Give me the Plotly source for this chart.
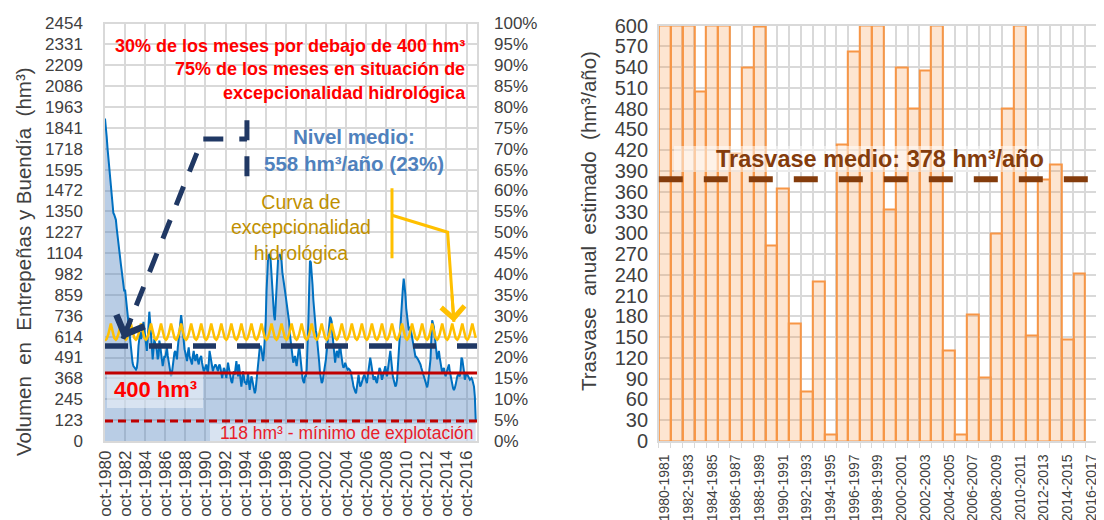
import pandas as pd
import plotly.graph_objects as go

W, H = 1104, 520
OFF = 8  # margen por defecto del <body> en la página

# Volumen embalsado en Entrepeñas + Buendía (hm3), un valor por mes, oct-1980 .. sep-2017
volumen = [
    1895, 1850, 1790, 1720, 1660, 1600, 1550, 1500, 1440, 1380, 1340, 1330,  # 1980-81
    1320, 1300, 1250, 1200, 1160, 1120, 1080, 1040, 1000, 960, 920, 880,
    890, 840, 780, 730, 680, 620, 570, 530, 490, 460, 440, 430,
    425, 420, 430, 470, 560, 610, 640, 600, 620, 660, 700, 660,
    610, 560, 530, 600, 680, 760, 700, 610, 520, 480, 540, 600,
    570, 560, 530, 480, 500, 590, 560, 520, 480, 440, 470, 500,  # 1985-86
    490, 530, 550, 500, 470, 430, 410, 380, 400, 450, 480, 520,
    530, 500, 480, 550, 610, 650, 690, 740, 700, 640, 580, 540,
    520, 490, 470, 520, 550, 500, 480, 460, 450, 500, 530, 490,
    470, 500, 510, 470, 450, 480, 490, 500, 460, 430, 410, 420,
    430, 450, 420, 400, 460, 530, 500, 470, 430, 410, 430, 440,  # 1990-91
    450, 440, 420, 410, 440, 450, 430, 390, 370, 400, 430, 420,
    390, 370, 420, 460, 430, 400, 380, 350, 340, 370, 410, 390,
    440, 470, 420, 380, 450, 400, 350, 320, 360, 410, 380, 340,
    350, 330, 360, 400, 340, 300, 340, 380, 360, 330, 300, 280,
    300, 360, 400, 450, 500, 550, 560, 540, 500, 470, 520, 600,  # 1995-96
    700, 880, 1060, 1090, 1095, 1085, 1060, 960, 870, 790, 740, 710,
    820, 960, 1040, 1085, 1095, 1095, 1080, 1060, 990, 945, 910, 886,
    850, 810, 790, 760, 700, 630, 590, 550, 500, 460, 480, 500,
    470, 440, 480, 530, 560, 520, 460, 410, 370, 350, 340, 380,
    380, 420, 540, 700, 900, 1060, 1050, 1000, 920, 830, 750, 680,  # 2000-01
    650, 620, 580, 530, 460, 400, 360, 340, 350, 380, 410, 440,
    480, 530, 590, 640, 690, 730, 720, 700, 620, 550, 500, 460,
    500, 530, 510, 490, 540, 570, 520, 470, 450, 430, 440, 460,
    440, 430, 420, 425, 420, 415, 400, 380, 350, 320, 300, 290,
    280, 320, 360, 390, 350, 320, 330, 350, 370, 380, 390, 370,  # 2005-06
    350, 340, 380, 420, 470, 490, 460, 430, 390, 360, 370, 380,
    350, 340, 370, 400, 430, 420, 380, 360, 380, 400, 430, 440,
    400, 380, 420, 470, 510, 530, 480, 420, 380, 360, 340, 320,
    330, 360, 440, 530, 600, 670, 750, 830, 900, 955, 910, 860,
    780, 730, 690, 650, 660, 670, 640, 610, 570, 530, 500, 495,  # 2010-11
    495, 490, 480, 470, 460, 450, 430, 415, 400, 390, 370, 350,
    330, 315, 340, 380, 430, 480, 600, 710, 690, 670, 620, 570,
    520, 480, 500, 530, 490, 450, 410, 400, 420, 430, 400, 380,
    400, 420, 440, 450, 410, 380, 350, 330, 310, 300, 310, 330,
    370, 380, 390, 385, 380, 420, 490, 480, 450, 410, 360, 380,  # 2015-16
    400, 390, 380, 370, 360, 365, 370, 360, 340, 320, 260, 120,
]

# curva de excepcionalidad hidrológica (hm3), oct..sep, igual todos los años
curva_excep = [600, 595, 600, 612, 628, 648, 670, 690, 668, 643, 622, 606]

vol_max = 2454
nivel_medio = 558
umbral = 400
minimo_explot = 118
ytick_text = ["0", "123", "245", "368", "491", "614", "736", "859", "982", "1104",
              "1227", "1350", "1472", "1595", "1718", "1841", "1963", "2086",
              "2209", "2331", "2454"]
xtick_years = list(range(1980, 2017, 2))

# trasvase anual estimado (hm3/año)
campanas = [f"{y}-{y + 1}" for y in range(1980, 2017)]
trasvase = [600, 600, 600, 505, 600, 600, 415, 540, 598, 283,
            365, 170, 71, 230, 9, 428, 562, 600, 600, 335,
            540, 480, 535, 600, 131, 10, 183, 91, 300, 480,
            600, 152, 378, 400, 146, 242, None]
trasvase_medio = 378

FONT = "Liberation Sans, Arial, sans-serif"
GRID = "#D9D9D9"
TXT = "#404040"
NAVY = "#203864"
DKRED = "#C00000"
BROWN = "#843C0C"

FW, FH = W - OFF, H - OFF


def px(x):
    return (x - OFF) / FW


def py(y):
    return 1 - (y - OFF) / FH


meses = pd.date_range("1980-10-01", periods=len(volumen), freq="MS")
curva = curva_excep * (len(volumen) // 12)

fig = go.Figure()

# --- panel izquierdo ---
fig.add_trace(go.Scatter(x=meses, y=volumen, mode="lines",
                         line=dict(color="#0070C0", width=2),
                         fill="tozeroy", fillcolor="rgba(79,129,189,0.4)",
                         xaxis="x", yaxis="y"))
fig.add_trace(go.Scatter(x=meses, y=curva, mode="lines",
                         line=dict(color="#FFC000", width=2.5),
                         xaxis="x", yaxis="y"))
# misma serie en % del volumen máximo, invisible, para que se dibuje el eje derecho
fig.add_trace(go.Scatter(x=meses, y=[v / vol_max for v in volumen], mode="lines",
                         line=dict(width=0), opacity=0, hoverinfo="skip",
                         xaxis="x", yaxis="y2"))

# líneas de llamada
fig.add_trace(go.Scatter(
    x=["1982-07-15", "1990-06-15", "1994-11-20", None, "1994-11-20", "1994-11-20"],
    y=[600, 1775, 1775, None, 1885, 1497], mode="lines",
    line=dict(color=NAVY, width=5, dash="20px,16px"), xaxis="x", yaxis="y"))
fig.add_trace(go.Scatter(
    x=["2009-05-01", "2009-05-01", None, "2009-05-01", "2014-11-15", "2015-07-01"],
    y=[1485, 1074, None, 1327, 1227, 700], mode="lines",
    line=dict(color="#FFC000", width=3), xaxis="x", yaxis="y"))

# --- panel derecho ---
fig.add_trace(go.Bar(x=list(range(len(campanas))), y=trasvase,
                     marker=dict(color="rgba(247,150,70,0.25)",
                                 line=dict(color="#F79646", width=2)),
                     xaxis="x2", yaxis="y3"))

shapes = [
    dict(type="rect", xref="paper", yref="paper", x0=px(107), x1=px(203),
         y0=py(408), y1=py(373), fillcolor="rgba(255,255,255,0.45)", line=dict(width=0)),
    dict(type="rect", xref="paper", yref="paper", x0=px(210), x1=px(477),
         y0=py(441), y1=py(424), fillcolor="rgba(255,255,255,0.45)", line=dict(width=0)),
    dict(type="rect", xref="paper", yref="paper", x0=px(674), x1=px(1049),
         y0=py(172), y1=py(146), fillcolor="rgba(255,255,255,0.5)", line=dict(width=0)),
    dict(type="line", xref="x domain", yref="y", x0=0, x1=1, y0=umbral, y1=umbral,
         line=dict(color=DKRED, width=3)),
    dict(type="line", xref="x domain", yref="y", x0=0, x1=1, y0=minimo_explot,
         y1=minimo_explot, line=dict(color=DKRED, width=3, dash="8px,5px")),
    dict(type="line", xref="x domain", yref="y", x0=0, x1=1, y0=nivel_medio,
         y1=nivel_medio, line=dict(color=NAVY, width=5.5, dash="23px,21px")),
    dict(type="line", xref="x2 domain", yref="y3", x0=0, x1=1, y0=trasvase_medio,
         y1=trasvase_medio, line=dict(color=BROWN, width=6, dash="24px,21px")),
]


def label(x, y, text, size, color, anchor="center", **kw):
    return dict(x=px(x), y=py(y), xref="paper", yref="paper", xanchor=anchor,
                yanchor="middle", showarrow=False, text=text,
                font=dict(size=size, color=color, weight=kw.pop("weight", "normal")), **kw)


annotations = [
    label(468, 69, "30% de los meses por debajo de 400 hm³<br>75% de los meses en situación de"
                   "<br>excepcionalidad hidrológica",
          18, "#FF0000", anchor="right", align="right", weight="bold"),
    label(354, 150, f"Nivel medio:<br>{nivel_medio} hm³/año ({nivel_medio / vol_max:.0%})",
          20.5, "#4F81BD", weight="bold"),
    label(301, 227, "Curva de<br>excepcionalidad<br>hidrológica", 19.5, "#BF9000"),
    label(155, 389, f"{umbral} hm³", 22, "#FF0000", weight="bold"),
    label(476, 433, f"{minimo_explot} hm³ - mínimo de explotación", 17.5, "#E8202A",
          anchor="right"),
    label(880, 159, f"Trasvase medio: {trasvase_medio} hm³/año", 23.5, BROWN, weight="bold"),
    # títulos de ejes
    label(23, 262, "Volumen  en  Entrepeñas y Buendía  (hm³)", 20.5, TXT, textangle=-90),
    label(588, 221, "Trasvase  anual  estimado  (hm³/año)", 20.5, TXT, textangle=-90),
    # puntas de flecha
    dict(x="1982-07-15", y=600, xref="x", yref="y", ax=9, ay=-22, text="",
         showarrow=True, arrowhead=4, arrowsize=1.3, arrowwidth=4.5, arrowcolor=NAVY),
    dict(x="2015-07-01", y=700, xref="x", yref="y", ax=-2, ay=-28, text="",
         showarrow=True, arrowhead=4, arrowsize=1.5, arrowwidth=3, arrowcolor="#FFC000"),
]

tickfont = dict(size=17, color=TXT)
ydom = [py(441), py(23.5)]

fig.update_layout(
    width=FW, height=FH, autosize=False,
    margin=dict(l=0, r=0, t=0, b=0, autoexpand=False),
    paper_bgcolor="white", plot_bgcolor="white",
    font=dict(family=FONT, color=TXT),
    showlegend=False, bargap=0,
    shapes=shapes, annotations=annotations,
    xaxis=dict(domain=[px(105), px(477)], anchor="y", type="date", automargin=False,
               range=["1980-10-01", "2017-10-18"], tickmode="array",
               tickvals=[f"{y}-10-01" for y in xtick_years],
               ticktext=[f"oct-{y}" for y in xtick_years],
               tickangle=-90, tickfont=dict(size=17, color=TXT), ticks="",
               ticklabelstandoff=1,
               showgrid=True, gridcolor=GRID, gridwidth=1.5, zeroline=False,
               showline=True, linecolor=GRID, linewidth=1.5, mirror=True),
    yaxis=dict(domain=ydom, anchor="x", range=[0, vol_max], tickmode="array",
               automargin=False,
               tickvals=[vol_max * i / 20 for i in range(21)], ticktext=ytick_text,
               tickfont=tickfont, ticks="", ticklabelstandoff=17,
               showgrid=True, gridcolor=GRID, gridwidth=1.5, zeroline=False,
               showline=True, linecolor=GRID, linewidth=1.5, mirror=True),
    yaxis2=dict(overlaying="y", anchor="x", side="right", range=[0, 1],
                automargin=False,
                tickmode="linear", tick0=0, dtick=0.05, tickformat=".0%",
                tickfont=tickfont, ticks="", ticklabelstandoff=16,
                showgrid=False, zeroline=False),
    xaxis2=dict(domain=[px(658.8), px(1097)], anchor="y3", range=[-0.5, len(campanas) - 0.5],
                automargin=False,
                tickmode="array", tickvals=list(range(0, len(campanas), 2)),
                ticktext=campanas[::2], tickangle=-90,
                tickfont=dict(size=14, color=TXT), ticks="",
                ticklabelstandoff=6, showgrid=False, zeroline=False,
                showline=True, linecolor=GRID, linewidth=1.5, mirror=True,
                minor=dict(tickmode="array",
                           tickvals=[i - 0.5 for i in range(len(campanas) + 1)],
                           showgrid=True, gridcolor=GRID, gridwidth=1.5,
                           ticks="outside", ticklen=5, tickcolor=GRID)),
    yaxis3=dict(domain=[py(441), py(25.5)], anchor="x2", range=[0, 600],
                automargin=False,
                tickmode="linear", tick0=0, dtick=30,
                tickfont=dict(size=20, color=TXT), ticks="", ticklabelstandoff=5,
                showgrid=True, gridcolor=GRID, gridwidth=1.5, zeroline=False,
                showline=True, linecolor=GRID, linewidth=1.5, mirror=True),
)

fig.write_html("out.html")
